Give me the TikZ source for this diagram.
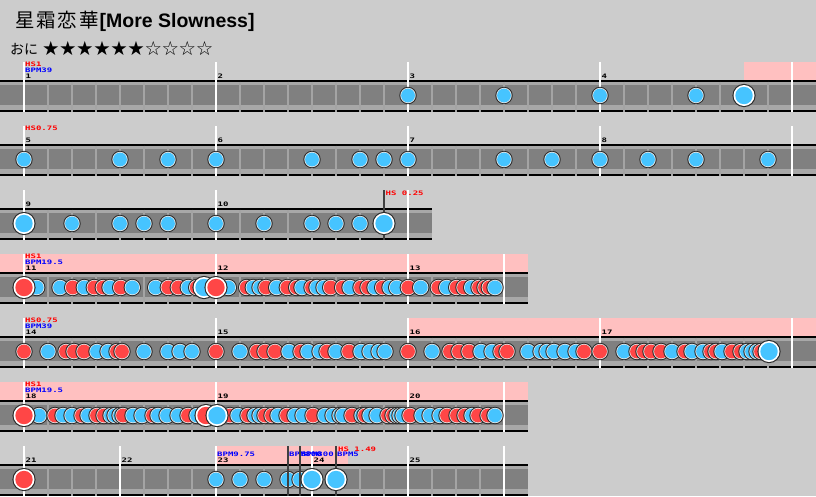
\documentclass[tikz,border=0pt]{standalone}
\usepackage{fontspec}
\usepackage{graphicx}
\newfontfamily\cjkf{Noto Sans CJK JP}
\newfontfamily\arialf{Liberation Sans}
\newfontfamily\pxf{DejaVu Sans Mono Bold}
\newfontfamily\symf{DejaVu Sans}
\definecolor{bgc}{HTML}{CCCCCC}
\definecolor{pinkc}{HTML}{FFC0C0}
\definecolor{trackc}{HTML}{808080}
\definecolor{bandc}{HTML}{A8A8A8}
\definecolor{subc}{HTML}{A4A4A4}
\definecolor{notedark}{HTML}{2A2A2A}
\definecolor{ringc}{HTML}{E8E8E8}
\definecolor{nb}{HTML}{46C4FF}
\definecolor{nr}{HTML}{FF4646}
\definecolor{hsc}{HTML}{FF0000}
\definecolor{bpmc}{HTML}{0000FF}
\definecolor{markc}{HTML}{404040}
\newcommand\sn[3]{\fill[notedark] (#1,#2) circle (8.7pt); \fill[ringc] (#1,#2) circle (7.7pt); \fill[n#3] (#1,#2) circle (6.9pt);}
\newcommand\bn[3]{\fill[notedark] (#1,#2) circle (11.6pt); \fill[white] (#1,#2) circle (10.5pt); \fill[n#3] (#1,#2) circle (8.7pt);}
\newcommand\track[2]{%
 \fill[trackc] (0,#1-16) rectangle (#2,#1+16);
 \fill[bandc] (0,#1-14) rectangle (#2,#1-11);
 \fill[bandc] (0,#1+9) rectangle (#2,#1+14);
 \fill[black] (0,#1-16) rectangle (#2,#1-14);
 \fill[black] (0,#1+14) rectangle (#2,#1+16);}
\newcommand\subdiv[3]{\foreach \s in {#2,...,#3}{\draw[subc, line width=1.5pt] (\s,#1-14) -- (\s,#1+16);}}
\newcommand\mline[2]{\draw[white, line width=2pt] (#1,#2-33.5) -- (#1,#2+16.5);}
\newcommand\lbl[5]{\node[anchor=base west, inner sep=0, text=#4, font=\pxf\fontsize{9}{9}\selectfont] (#1) at (#2,#3) {\scalebox{1}[0.68]{#5}};}
\begin{document}
\begin{tikzpicture}[x=1pt,y=-1pt]
\fill[bgc] (0,0) rectangle (816,496);
\useasboundingbox (0,0) rectangle (816,496);
% title
\node[anchor=base west, inner sep=0] (title) at (15,27) {\cjkf\fontsize{19.5}{20}\selectfont 星\hspace{1.8pt}霜\hspace{1.8pt}恋\hspace{1.8pt}華\hspace{1pt}\arialf\bfseries [More Slowness]};
\node[anchor=base west, inner sep=0] (level) at (10,54) {\cjkf\fontsize{14}{14}\selectfont おに};
\node[anchor=base west, inner sep=0] (stars) at (42,55) {\symf\fontsize{19.5}{19.5}\selectfont\makebox[17.1pt]{★}\makebox[17.1pt]{★}\makebox[17.1pt]{★}\makebox[17.1pt]{★}\makebox[17.1pt]{★}\makebox[17.1pt]{★}\makebox[17.1pt]{☆}\makebox[17.1pt]{☆}\makebox[17.1pt]{☆}\makebox[17.1pt]{☆}};
%%%%%%%% Row 1
\def\c{95.5}
\fill[pinkc] (744,\c-33.5) rectangle (816,\c-15.5);
\track{\c}{816}
\subdiv{\c}{48,72}{768}
\foreach \m in {24,216,408,600,792}{\mline{\m}{\c}}
\lbl{r1hs}{25}{\c-29.5}{hsc}{HS1}
\lbl{r1bpm}{25}{\c-23.2}{bpmc}{BPM39}
\lbl{m1}{25.5}{\c-17.2}{black}{1}
\lbl{m2}{217.5}{\c-17.2}{black}{2}
\lbl{m3}{409.5}{\c-17.2}{black}{3}
\lbl{m4}{601.5}{\c-17.2}{black}{4}
\foreach \x/\k in {408/b,504/b,600/b,696/b}{\sn{\x}{\c}{\k}}
\bn{744}{\c}{b}
%%%%%%%% Row 2
\def\c{159.5}
\track{\c}{816}
\subdiv{\c}{48,72}{768}
\foreach \m in {24,216,408,600,792}{\mline{\m}{\c}}
\lbl{r2hs}{25}{\c-29.5}{hsc}{HS0.75}
\lbl{m5}{25.5}{\c-17.2}{black}{5}
\lbl{m6}{217.5}{\c-17.2}{black}{6}
\lbl{m7}{409.5}{\c-17.2}{black}{7}
\lbl{m8}{601.5}{\c-17.2}{black}{8}
\foreach \x in {24,120,168,216,312,360,384,408,504,552,600,648,696,768}{\sn{\x}{\c}{b}}
%%%%%%%% Row 3
\def\c{223.5}
\track{\c}{432}
\subdiv{\c}{48,72}{384}
\foreach \m in {24,216,408}{\mline{\m}{\c}}
\lbl{m9}{25.5}{\c-17.2}{black}{9}
\lbl{m10}{217.5}{\c-17.2}{black}{10}
\lbl{r3hs}{385.5}{\c-28.5}{hsc}{HS 0.25}
\draw[markc, line width=2pt] (384,\c-33.5) -- (384,\c+16);
\foreach \x in {72,120,144,168,216,264,312,336,360}{\sn{\x}{\c}{b}}
\bn{24}{\c}{b}
\bn{384}{\c}{b}
%%%%%%%% Row 4
\def\c{287.5}
\fill[pinkc] (0,\c-33.5) rectangle (528,\c-15.5);
\track{\c}{528}
\subdiv{\c}{48,72}{480}
\foreach \m in {24,216,408,504}{\mline{\m}{\c}}
\lbl{r4hs}{25}{\c-29.5}{hsc}{HS1}
\lbl{r4bpm}{25}{\c-23.2}{bpmc}{BPM19.5}
\lbl{m11}{25.5}{\c-17.2}{black}{11}
\lbl{m12}{217.5}{\c-17.2}{black}{12}
\lbl{m13}{409.5}{\c-17.2}{black}{13}
\foreach \x/\k in {36.7/b,60/b,72.7/r,84.3/b,94.3/r,103.3/r,110/b,120.7/r,132.3/b,155.7/b,168.3/r,178.3/r,188.3/b,196.7/r,228.3/b,246.7/r,253.3/b,260/b,266/r,276.7/b,287.3/r,296.7/r,302/b,312/r,317/b,324/b,330.7/r,342.7/r,350/b,361/r,368/r,375/b,382.7/r,390/b,396.7/b,408.3/r,420.7/b,438.3/r,446.7/b,456.7/r,464/r,471.7/b,479/r,485/r,489.3/r,495/b}{\sn{\x}{\c}{\k}}
\foreach \x/\k in {24/r,204/b,216/r}{\bn{\x}{\c}{\k}}
%%%%%%%% Row 5
\def\c{351.5}
\fill[pinkc] (408,\c-33.5) rectangle (816,\c-15.5);
\track{\c}{816}
\subdiv{\c}{48,72}{768}
\foreach \m in {24,216,408,600,792}{\mline{\m}{\c}}
\lbl{r5hs}{25}{\c-29.5}{hsc}{HS0.75}
\lbl{r5bpm}{25}{\c-23.2}{bpmc}{BPM39}
\lbl{m14}{25.5}{\c-17.2}{black}{14}
\lbl{m15}{217.5}{\c-17.2}{black}{15}
\lbl{m16}{409.5}{\c-17.2}{black}{16}
\lbl{m17}{601.5}{\c-17.2}{black}{17}
\foreach \x/\k in {24/r,48/b,66/r,74/r,84/r,97/b,108/b,117/r,122/r,144/b,168/b,180/b,192/b,216/r,240/b,257/r,265/r,275/r,289/b,301/r,308/b,320/b,327/r,336/b,349/r,361/b,370/b,379/b,385/b,408/r,432/b,450/r,459/r,469/r,481/b,492/b,501/r,507/r,528/b,541/b,547/b,554/b,565/b,576/b,584/r,600/r,624/b,637/r,644/r,651/r,661/r,672/b,685/r,692/b,703/b,711/r,716/r,722/b,732/r,741/r,747/b,752/b,757/b,761/r}{\sn{\x}{\c}{\k}}
\bn{769}{\c}{b}
%%%%%%%% Row 6
\def\c{415.5}
\fill[pinkc] (0,\c-33.5) rectangle (528,\c-15.5);
\track{\c}{528}
\subdiv{\c}{48,72}{480}
\foreach \m in {24,216,408,504}{\mline{\m}{\c}}
\lbl{r6hs}{25}{\c-29.5}{hsc}{HS1}
\lbl{r6bpm}{25}{\c-23.2}{bpmc}{BPM19.5}
\lbl{m18}{25.5}{\c-17.2}{black}{18}
\lbl{m19}{217.5}{\c-17.2}{black}{19}
\lbl{m20}{409.5}{\c-17.2}{black}{20}
\foreach \x/\k in {39/b,55/r,63/b,72/b,82/r,88/b,97/r,104/r,111/b,115/b,120/b,123/r,133/b,142/b,153/r,158/b,167/b,178/b,188/r,197/b,230/r,238/b,248/r,255/b,260/b,265/r,272/r,278/b,287/r,295/b,303/b,313/r,325/b,333/b,340/b,343/b,352/r,362/b,365/r,370/b,377/b,388/r,393/r,397/b,400/b,403/b,410/r,422/b,430/b,440/b,447/r,457/r,465/r,472/b,478/r,488/r,495/b}{\sn{\x}{\c}{\k}}
\foreach \x/\k in {24/r,206/r,217/b}{\bn{\x}{\c}{\k}}
%%%%%%%% Row 7
\def\c{479.5}
\fill[pinkc] (216,\c-33.5) rectangle (348,\c-15.5);
\track{\c}{528}
\subdiv{\c}{48,72}{480}
\foreach \m in {24,120,216,312,408,504}{\mline{\m}{\c}}
\lbl{r7bpma}{217}{\c-23.5}{bpmc}{BPM9.75}
\lbl{r7bpmb}{289}{\c-23.5}{bpmc}{BPM800}
\lbl{r7bpmc}{301}{\c-23.5}{bpmc}{BPM800}
\lbl{r7bpmd}{337}{\c-23.5}{bpmc}{BPM5}
\lbl{r7hs}{338}{\c-28.5}{hsc}{HS 1.49}
\lbl{m21}{25.5}{\c-17.2}{black}{21}
\lbl{m22}{121.5}{\c-17.2}{black}{22}
\lbl{m23}{217.5}{\c-17.2}{black}{23}
\lbl{m24}{313.5}{\c-17.2}{black}{24}
\lbl{m25}{409.5}{\c-17.2}{black}{25}
\foreach \x in {216,240,264,288,300}{\sn{\x}{\c}{b}}
\foreach \x in {288,300,336}{\draw[markc, line width=2pt] (\x,\c-33.5) -- (\x,\c+16.5);}
\bn{24}{\c}{r}
\bn{312}{\c}{b}
\bn{336}{\c}{b}
\end{tikzpicture}
\end{document}
